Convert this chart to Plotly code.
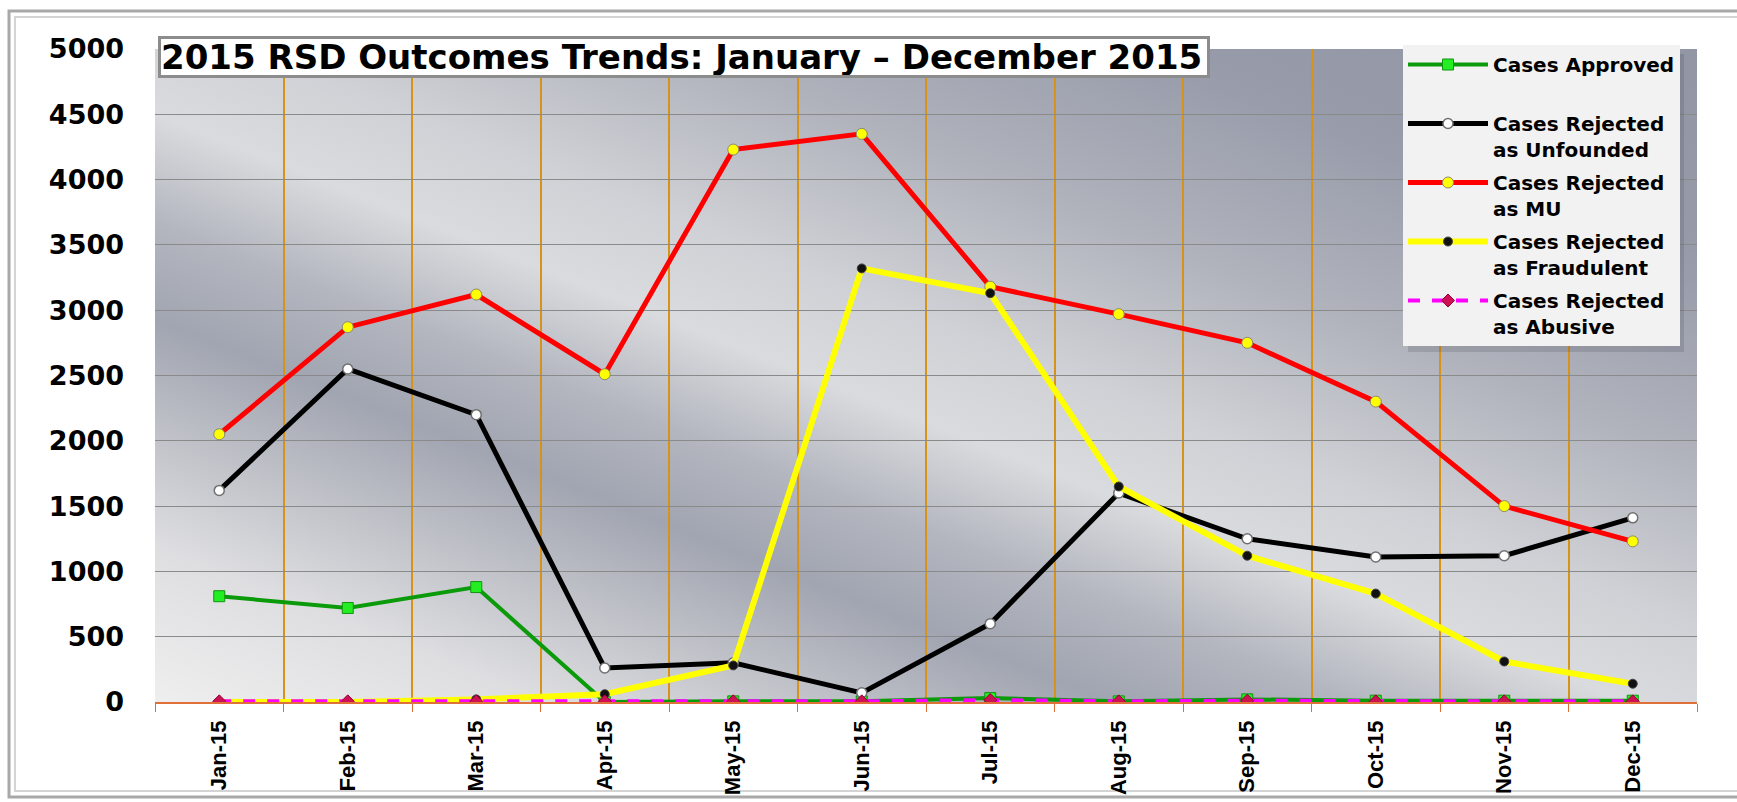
import base64
import plotly.graph_objects as go

# ---- data -------------------------------------------------------------
months = ["Jan-15", "Feb-15", "Mar-15", "Apr-15", "May-15", "Jun-15",
          "Jul-15", "Aug-15", "Sep-15", "Oct-15", "Nov-15", "Dec-15"]

approved = [810, 720, 880, 0, 5, 5, 30, 5, 20, 10, 10, 10]
rejected_unfounded = [1620, 2550, 2200, 260, 300, 70, 600, 1600, 1250, 1110, 1120, 1410]
rejected_mu = [2050, 2870, 3120, 2510, 4230, 4350, 3180, 2970, 2750, 2300, 1500, 1230]
rejected_fraudulent = [0, 0, 20, 60, 280, 3320, 3130, 1650, 1120, 830, 310, 140]
rejected_abusive = [5, 5, 5, 5, 5, 5, 15, 5, 10, 5, 5, 5]

y_ticks = [0, 500, 1000, 1500, 2000, 2500, 3000, 3500, 4000, 4500, 5000]

title_text = "2015 RSD Outcomes Trends: January \u2013 December 2015"

# ---- geometry of the figure (pixels) -----------------------------------
W, H = 1737, 802
ML, MR, MT, MB = 155, 40, 49, 100
PW, PH = W - ML - MR, H - MT - MB


def px(x):
    return (x - ML) / PW


def py(y):
    return (H - MB - y) / PH


# ---- brushed-silver plot background as an SVG gradient -----------------
stops = [
    (0.000, "#9195a4"),
    (0.170, "#969aa9"),
    (0.330, "#b0b3bc"),
    (0.460, "#d0d1d6"),
    (0.540, "#dadbde"),
    (0.625, "#b3b6bf"),
    (0.700, "#a1a5b1"),
    (0.775, "#bcbec5"),
    (0.875, "#dedee1"),
    (1.000, "#efefef"),
]
stop_xml = "".join(
    f'<stop offset="{o}" stop-color="{c}"/>' for o, c in stops)
svg = (
    f'<svg xmlns="http://www.w3.org/2000/svg" width="{PW}" height="{PH}" '
    f'viewBox="0 0 {PW} {PH}" preserveAspectRatio="none">'
    '<defs><linearGradient id="g" gradientUnits="userSpaceOnUse" '
    'x1="218" y1="-546" x2="-227" y2="568">'
    f'{stop_xml}</linearGradient></defs>'
    f'<rect x="0" y="0" width="{PW}" height="{PH}" fill="url(#g)"/></svg>'
)
bg_uri = "data:image/svg+xml;base64," + base64.b64encode(svg.encode()).decode()

# ---- traces -----------------------------------------------------------
fig = go.Figure()

fig.add_trace(go.Scatter(
    x=months, y=approved, name="Cases Approved<br> ", legendgroup="a",
    mode="lines+markers",
    line=dict(color="#0a9a0a", width=4),
    marker=dict(symbol="square", size=11, color="#22ee22",
                line=dict(color="#139313", width=1)),
))
fig.add_trace(go.Scatter(
    x=months, y=rejected_unfounded, name="Cases Rejected<br>as Unfounded",
    legendgroup="b", mode="lines+markers",
    line=dict(color="#000000", width=5),
    marker=dict(symbol="circle", size=10, color="#ffffff",
                line=dict(color="#707070", width=1.5)),
))
fig.add_trace(go.Scatter(
    x=months, y=rejected_mu, name="Cases Rejected<br>as MU",
    legendgroup="c", mode="lines+markers",
    line=dict(color="#ff0000", width=5),
    marker=dict(symbol="circle", size=11, color="#ffff00",
                line=dict(color="#8a8a6a", width=1)),
))
fig.add_trace(go.Scatter(
    x=months, y=rejected_fraudulent, name="Cases Rejected<br>as Fraudulent",
    legendgroup="d", mode="lines+markers",
    line=dict(color="#ffff00", width=6),
    marker=dict(symbol="circle", size=9, color="#111111",
                line=dict(color="#444444", width=1)),
))
fig.add_trace(go.Scatter(
    x=months, y=rejected_abusive, name="Cases Rejected<br>as Abusive",
    legendgroup="e", mode="lines+markers",
    line=dict(color="#ff00ff", width=4, dash="dash"),
    marker=dict(symbol="diamond", size=10, color="#cc1155",
                line=dict(color="#99003a", width=1)),
))

# ---- frame, legend shadow ---------------------------------------------
shapes = [
    dict(type="rect", xref="paper", yref="paper",
         x0=px(9), x1=px(1950), y0=py(797), y1=py(11),
         line=dict(color="#a8a8a8", width=3), fillcolor="rgba(0,0,0,0)",
         layer="below"),
    dict(type="rect", xref="paper", yref="paper",
         x0=px(15), x1=px(1950), y0=py(791), y1=py(17),
         line=dict(color="#d4d4d4", width=2), fillcolor="rgba(0,0,0,0)",
         layer="below"),
    dict(type="rect", xref="paper", yref="paper",
         x0=px(1408), x1=px(1684), y0=py(352), y1=py(54),
         line=dict(width=0), fillcolor="rgba(60,60,70,0.18)", layer="above"),
]

fig.update_layout(
    width=W, height=H,
    margin=dict(l=ML, r=MR, t=MT, b=MB, autoexpand=False),
    paper_bgcolor="#ffffff",
    plot_bgcolor="rgba(0,0,0,0)",
    images=[dict(source=bg_uri, xref="paper", yref="paper", x=0, y=1,
                 sizex=1, sizey=1, sizing="stretch", xanchor="left",
                 yanchor="top", layer="below")],
    shapes=shapes,
    showlegend=True,
    legend=dict(
        x=px(1403), y=py(45), xanchor="left", yanchor="top",
        bgcolor="#f2f2f2", borderwidth=0,
        font=dict(family="DejaVu Sans", size=20, color="#000000",
                  weight="bold"),
        valign="top", tracegroupgap=4, itemwidth=80,
    ),
    annotations=[dict(
        text=title_text, xref="paper", yref="paper",
        x=px(158), y=py(57), xanchor="left", yanchor="middle",
        showarrow=False, align="left", width=1046, height=36,
        font=dict(family="DejaVu Sans", size=34, color="#000000",
                  weight="bold"),
        bgcolor="#ffffff", bordercolor="#8c8c8c", borderwidth=3, borderpad=0,
    )],
    xaxis=dict(
        type="category", categoryorder="array", categoryarray=months,
        range=[-0.5, 11.5], tickson="boundaries",
        ticks="outside", ticklen=8, tickwidth=1, tickcolor="#e0703a",
        showline=True, linecolor="#e0703a", linewidth=1.5,
        showgrid=True, gridcolor="#d69318", gridwidth=2,
        tickangle=-90, automargin=False, ticklabelstandoff=8,
        tickfont=dict(family="Liberation Sans", size=22, color="#000000",
                      weight="bold"),
        fixedrange=True,
    ),
    yaxis=dict(
        range=[0, 5000], tickvals=y_ticks,
        ticktext=[str(v) for v in y_ticks],
        showgrid=True, gridcolor="#8a8a8a", gridwidth=1,
        zeroline=False, showline=False, ticks="",
        ticklabelstandoff=30, automargin=False,
        tickfont=dict(family="DejaVu Sans", size=27, color="#000000",
                      weight="bold"),
        fixedrange=True,
    ),
)

fig.write_html("out.html")
